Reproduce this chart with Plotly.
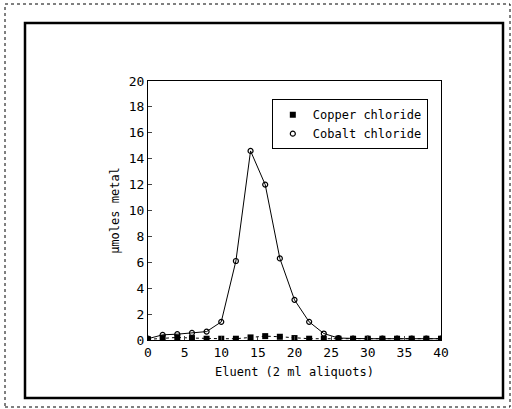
import plotly.graph_objects as go

eluent = [0, 2, 4, 6, 8, 10, 12, 14, 16, 18, 20, 22, 24, 26, 28, 30, 32, 34, 36, 38, 40]
cobalt = [0.1, 0.4, 0.45, 0.55, 0.65, 1.4, 6.1, 14.6, 12.0, 6.3, 3.1, 1.4, 0.5, 0.15, 0.1, 0.1, 0.1, 0.1, 0.1, 0.1, 0.1]
copper = [0.05, 0.15, 0.2, 0.15, 0.1, 0.1, 0.1, 0.2, 0.3, 0.25, 0.15, 0.1, 0.1, 0.1, 0.1, 0.1, 0.1, 0.1, 0.1, 0.1, 0.1]
x_ticks = [0, 5, 10, 15, 20, 25, 30, 35, 40]
y_ticks = [0, 2, 4, 6, 8, 10, 12, 14, 16, 18, 20]

FONT = "DejaVu Sans Mono"

fig = go.Figure()
fig.add_trace(go.Scatter(x=eluent, y=copper, mode="lines", line=dict(color="black", width=1, dash="dot"),
                         showlegend=False, hoverinfo="skip"))
fig.add_trace(go.Scatter(x=eluent, y=copper, mode="markers", name="Copper chloride",
                         marker=dict(symbol="square", size=6, color="black")))
fig.add_trace(go.Scatter(x=eluent, y=cobalt, mode="lines", line=dict(color="black", width=1),
                         showlegend=False, hoverinfo="skip"))
fig.add_trace(go.Scatter(x=eluent, y=cobalt, mode="markers", name="Cobalt chloride",
                         marker=dict(symbol="circle-open", size=5, color="black", line=dict(width=1.2))))

fig.update_layout(
    width=512, height=409,
    margin=dict(l=148, r=71, t=81, b=69),
    paper_bgcolor="white", plot_bgcolor="white",
    font=dict(family=FONT, size=12, color="black"),
    showlegend=True,
    legend=dict(x=0.955, y=0.93, xanchor="right", yanchor="top",
                bordercolor="black", borderwidth=1, bgcolor="white",
                font=dict(family=FONT, size=12), tracegroupgap=0,
                itemwidth=30),
    xaxis=dict(range=[0, 40], tickvals=x_ticks, ticks="inside", ticklen=4,
               showline=True, linecolor="black", linewidth=1, mirror=True,
               showgrid=False, zeroline=False,
               tickfont=dict(family=FONT, size=13),
               title=dict(text="Eluent (2 ml aliquots)", font=dict(family=FONT, size=12), standoff=9)),
    yaxis=dict(range=[0, 20], tickvals=y_ticks, ticks="inside", ticklen=4,
               showline=True, linecolor="black", linewidth=1, mirror=True,
               showgrid=False, zeroline=False,
               tickfont=dict(family=FONT, size=13),
               title=dict(text="µmoles metal", font=dict(family=FONT, size=12), standoff=6)),
    shapes=[
        dict(type="rect", xref="paper", yref="paper",
             x0=(25 - 148) / 293, x1=(503 - 148) / 293,
             y0=(340 - 398) / 259, y1=(340 - 23) / 259,
             line=dict(color="black", width=2.5)),
        dict(type="rect", xref="paper", yref="paper",
             x0=(5 - 148) / 293, x1=(510 - 148) / 293,
             y0=(340 - 407) / 259, y1=(340 - 4) / 259,
             line=dict(color="black", width=1, dash="dot")),
    ],
)

fig.write_html("out.html", config={"displayModeBar": False},
               post_script="document.body.style.margin='0';")
